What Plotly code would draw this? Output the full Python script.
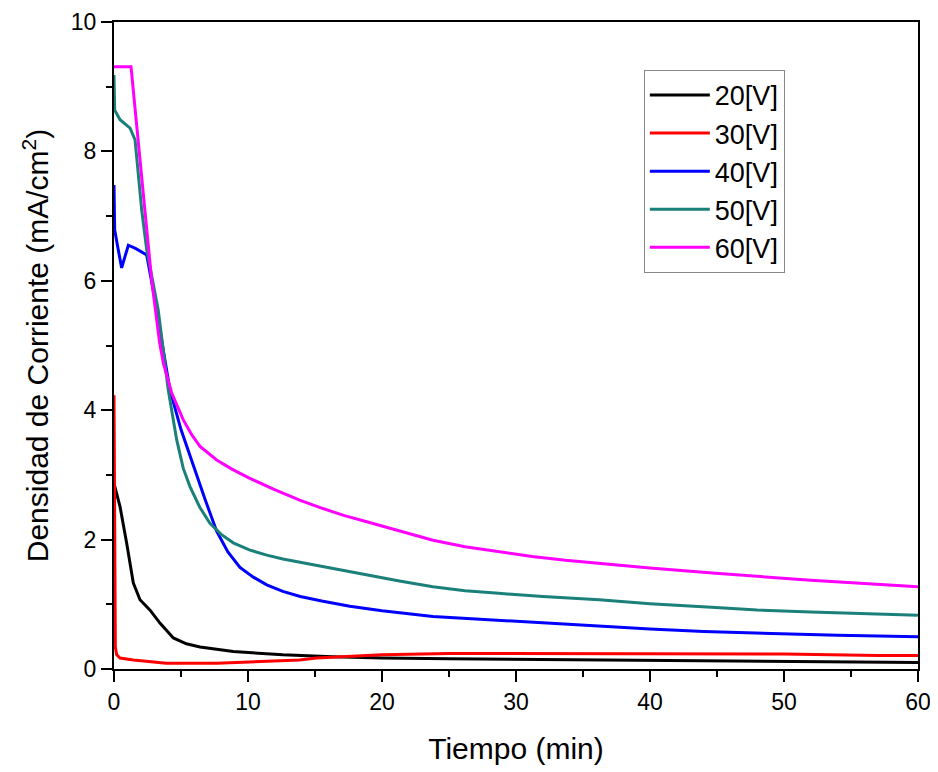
import plotly.graph_objects as go

# 20 V
t20 = [0, 0.45, 0.95, 1.44, 1.94, 2.69, 3.43, 4.43, 5.4, 6.42, 8.9, 12.6, 16.3, 20, 25, 30, 35, 40, 45, 50, 55, 60]
j20 = [2.87, 2.51, 1.94, 1.33, 1.07, 0.91, 0.71, 0.48, 0.39, 0.34, 0.27, 0.22, 0.19, 0.17, 0.16, 0.15, 0.14, 0.14, 0.12, 0.12, 0.11, 0.10]

# 30 V
t30 = [0, 0.05, 0.1, 0.2, 0.45, 1.44, 3.9, 7.66, 11.4, 13.85, 15.1, 17.6, 20, 25, 30, 40, 50, 57, 60]
j30 = [4.23, 2.5, 0.34, 0.22, 0.17, 0.14, 0.09, 0.09, 0.12, 0.14, 0.17, 0.20, 0.22, 0.24, 0.24, 0.23, 0.23, 0.21, 0.21]

# 40 V
t40 = [0, 0.05, 0.3, 0.57, 1.07, 1.6, 2.44, 2.8, 3.2, 3.7, 4.18, 5.0, 5.92, 6.8, 7.66, 8.5, 9.4, 10.4, 11.4,
       12.6, 13.9, 15.5, 17.6, 20, 23.8, 28.7, 32, 36.2, 40, 44, 48.6, 54, 60]
j40 = [7.48, 6.79, 6.5, 6.2, 6.55, 6.5, 6.4, 6.0, 5.55, 4.9, 4.31, 3.7, 3.13, 2.62, 2.13, 1.81, 1.57, 1.42, 1.30,
       1.20, 1.12, 1.05, 0.97, 0.90, 0.81, 0.75, 0.71, 0.66, 0.62, 0.58, 0.55, 0.52, 0.50]

# 50 V
t50 = [0, 0.05, 0.45, 1.2, 1.57, 1.8, 2.07, 2.44, 2.9, 3.3, 4.05, 4.68, 5.17, 5.67, 6.4, 7.16, 8.0, 8.9, 10.1,
       11.4, 12.6, 13.85, 16.3, 18.8, 21.3, 23.8, 26.2, 28.7, 32, 36.2, 40, 44.9, 48, 52, 56, 60]
j50 = [9.18, 8.64, 8.49, 8.36, 8.18, 7.71, 7.09, 6.48, 6.0, 5.55, 4.31, 3.54, 3.1, 2.82, 2.5, 2.25, 2.08, 1.95, 1.84,
       1.76, 1.70, 1.65, 1.55, 1.46, 1.36, 1.27, 1.21, 1.17, 1.12, 1.07, 1.01, 0.95, 0.91, 0.88, 0.85, 0.83]

# 60 V
t60 = [0, 1.27, 2.81, 3.1, 3.4, 3.68, 4.3, 5.17, 5.8, 6.42, 7.66, 8.8, 10.1, 11.9, 13.85, 15.6, 17.2, 18.8,
       21.3, 23.8, 26.2, 28.7, 31.2, 33.7, 36.2, 40, 44.9, 48, 52, 56, 60]
j60 = [9.31, 9.31, 6.01, 5.5, 5.05, 4.73, 4.27, 3.85, 3.62, 3.44, 3.23, 3.09, 2.95, 2.78, 2.61, 2.48, 2.37, 2.28,
       2.13, 1.99, 1.89, 1.81, 1.74, 1.68, 1.63, 1.56, 1.48, 1.43, 1.37, 1.32, 1.27]

series = [
    ("20[V]", t20, j20, "#000000"),
    ("30[V]", t30, j30, "#ff0000"),
    ("40[V]", t40, j40, "#0000ff"),
    ("50[V]", t50, j50, "#1a8079"),
    ("60[V]", t60, j60, "#ff00ff"),
]

fig = go.Figure()
for name, t, j, c in series:
    fig.add_trace(go.Scatter(x=t, y=j, mode="lines", name=name,
                             line=dict(color=c, width=3)))

font_family = "Arial, Liberation Sans, sans-serif"
axis_common = dict(showline=True, linecolor="black", linewidth=2, mirror=True,
                   ticks="outside", ticklen=11, tickwidth=2, tickcolor="black",
                   showgrid=False, zeroline=False, automargin=False,
                   tickfont=dict(size=23, color="black", family=font_family))

fig.update_xaxes(range=[0, 60], dtick=10, tick0=0,
                 minor=dict(dtick=5, ticks="outside", ticklen=6, tickwidth=2, tickcolor="black"),
                 title=dict(text="Tiempo (min)", font=dict(size=30, color="black", family=font_family), standoff=24),
                 **axis_common)
fig.update_yaxes(range=[0, 10], dtick=2, tick0=0,
                 minor=dict(dtick=1, ticks="outside", ticklen=6, tickwidth=2, tickcolor="black"),
                 title=dict(text="Densidad de Corriente (mA/cm<sup>2</sup>)", font=dict(size=30, color="black", family=font_family), standoff=13),
                 **axis_common)

fig.update_layout(
    width=938, height=772,
    margin=dict(l=106, r=28, t=14, b=111),
    plot_bgcolor="white", paper_bgcolor="white",
    font=dict(family=font_family, color="black"),
    legend=dict(x=0.659, y=0.926, xanchor="left", yanchor="top",
                bordercolor="#888888", borderwidth=1, bgcolor="white",
                font=dict(size=27, color="black", family=font_family),
                tracegroupgap=0, itemwidth=60),
    showlegend=True,
)

fig.write_html("out.html")
